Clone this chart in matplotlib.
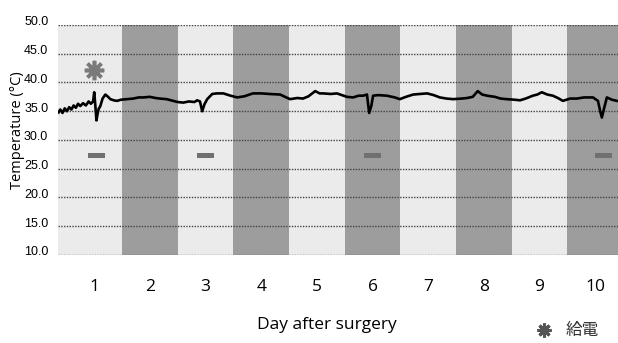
import matplotlib.pyplot as plt
import matplotlib.transforms as mtransforms
from matplotlib.lines import Line2D

####################################################################################################
# DATA
####################################################################################################
days = [1, 2, 3, 4, 5, 6, 7, 8, 9, 10]
dark_days = [2, 4, 6, 8, 10]
y_ticks = [10.0, 15.0, 20.0, 25.0, 30.0, 35.0, 40.0, 45.0, 50.0]

# body temperature trace (time in days, temperature in degC)
t_day = [0.36, 0.39, 0.43, 0.47, 0.51, 0.55, 0.59, 0.63, 0.67, 0.71, 0.75, 0.80, 0.85, 0.90,
         0.94, 0.98, 1.00, 1.02, 1.04, 1.06, 1.08, 1.11, 1.15, 1.20, 1.25, 1.29, 1.35, 1.41,
         1.48, 1.59, 1.70, 1.80, 1.88, 2.00, 2.10, 2.18, 2.30, 2.42, 2.50, 2.60, 2.70, 2.80,
         2.85, 2.90, 2.94, 2.98, 3.03, 3.12, 3.20, 3.32, 3.45, 3.57, 3.70, 3.85, 4.00, 4.15,
         4.34, 4.45, 4.52, 4.65, 4.75, 4.85, 4.97, 5.05, 5.11, 5.25, 5.36, 5.45, 5.54, 5.65,
         5.75, 5.83, 5.90, 5.94, 5.98, 6.01, 6.10, 6.26, 6.40, 6.49, 6.60, 6.73, 6.85, 6.98,
         7.10, 7.21, 7.33, 7.45, 7.60, 7.70, 7.80, 7.89, 7.97, 8.06, 8.20, 8.30, 8.41, 8.55,
         8.65, 8.75, 8.88, 8.96, 9.04, 9.14, 9.24, 9.33, 9.42, 9.55, 9.67, 9.80, 9.96, 10.05,
         10.09, 10.12, 10.16, 10.21, 10.30, 10.39]
temp = [34.8, 35.3, 34.7, 35.5, 35.0, 35.7, 35.3, 36.0, 35.6, 36.3, 35.9, 36.4, 36.0, 36.7,
        36.3, 36.7, 38.3, 36.0, 33.4, 34.5, 35.4, 35.9, 37.2, 37.9, 37.5, 37.1, 36.9, 36.8,
        37.0, 37.1, 37.2, 37.4, 37.4, 37.5, 37.3, 37.2, 37.1, 36.8, 36.6, 36.5, 36.7, 36.6,
        36.9, 36.7, 35.0, 36.2, 37.1, 38.0, 38.1, 38.1, 37.7, 37.4, 37.6, 38.1, 38.1, 38.0,
        37.9, 37.4, 37.1, 37.3, 37.2, 37.6, 38.5, 38.1, 38.1, 38.0, 38.1, 37.8, 37.5, 37.4,
        37.7, 37.7, 37.9, 34.7, 36.0, 37.7, 37.8, 37.7, 37.4, 37.1, 37.5, 37.9, 38.0, 38.1,
        37.8, 37.4, 37.2, 37.1, 37.2, 37.3, 37.5, 38.5, 37.9, 37.7, 37.5, 37.2, 37.1, 37.0,
        36.9, 37.2, 37.7, 37.9, 38.3, 37.9, 37.7, 37.3, 36.8, 37.2, 37.2, 37.4, 37.4, 36.8,
        35.0, 33.9, 35.5, 37.4, 37.0, 36.8]

# power supply marker (asterisk) and the small grey blocks
star_day = [0.99]
star_temp = [42.2]
block_days = [1.04, 3.0, 6.0, 10.15]
block_temp = 27.3

####################################################################################################
# PLOTTING
####################################################################################################
fig = plt.figure(figsize=(6.18, 3.43), dpi=100)
ax = fig.add_axes([0.0939, 0.2566, 0.9061, 0.6706])

ax.set_facecolor('#ebebeb')
for d in dark_days:
    ax.axvspan(d - 0.5, d + 0.5, color='#9d9d9d', lw=0, zorder=0)

# dotted grid
for yv in y_ticks:
    ax.axhline(yv, color='#444444', lw=1.0, ls=(0, (1, 1)), zorder=1)

ax.bar(block_days, 0.9, bottom=block_temp - 0.45, width=0.3, color='#707070', zorder=2)
ax.plot(star_day, star_temp, ls='none', marker=(8, 2, 0), markersize=14,
        markeredgewidth=2.6, color='#7a7a7a', zorder=3)
ax.plot(t_day, temp, color='black', lw=1.9, zorder=4)

ax.set_xlim(0.35, 10.41)
ax.set_ylim(10, 50)
ax.set_xticks(days)
ax.set_xticklabels([str(d) for d in days], fontsize=12.5, family='Open Sans')
ax.set_yticks(y_ticks)
ax.set_yticklabels([f'{v:.1f}' for v in y_ticks], fontsize=9, family='Liberation Sans')
ax.tick_params(axis='both', length=0)
ax.tick_params(axis='x', pad=17)
ax.tick_params(axis='y', pad=7)
# y labels sit a little above their grid lines
lift = mtransforms.ScaledTranslation(0, 4 / 100, fig.dpi_scale_trans)
for lbl in ax.get_yticklabels():
    lbl.set_transform(lbl.get_transform() + lift)
for s in ax.spines.values():
    s.set_visible(False)

ax.set_ylabel('Temperature (°C)', fontsize=10.5, family='Open Sans')
ax.yaxis.set_label_coords(-0.059, 0.543)
fig.text(327 / 618, 1 - 325 / 343, 'Day after surgery', fontsize=12.5, family='Open Sans',
         ha='center', va='center')

# legend for the asterisk
fig.add_artist(Line2D([544 / 618], [1 - 330 / 343], transform=fig.transFigure, ls='none',
                      marker=(8, 2, 0), markersize=10, markeredgewidth=2.2, color='#555555'))
fig.text(566 / 618, 1 - 330 / 343, '給電', fontsize=12, va='center', ha='left',
         family=['Noto Sans CJK JP', 'DejaVu Sans'], color='#333333')

fig.savefig('out.png', dpi=100)
